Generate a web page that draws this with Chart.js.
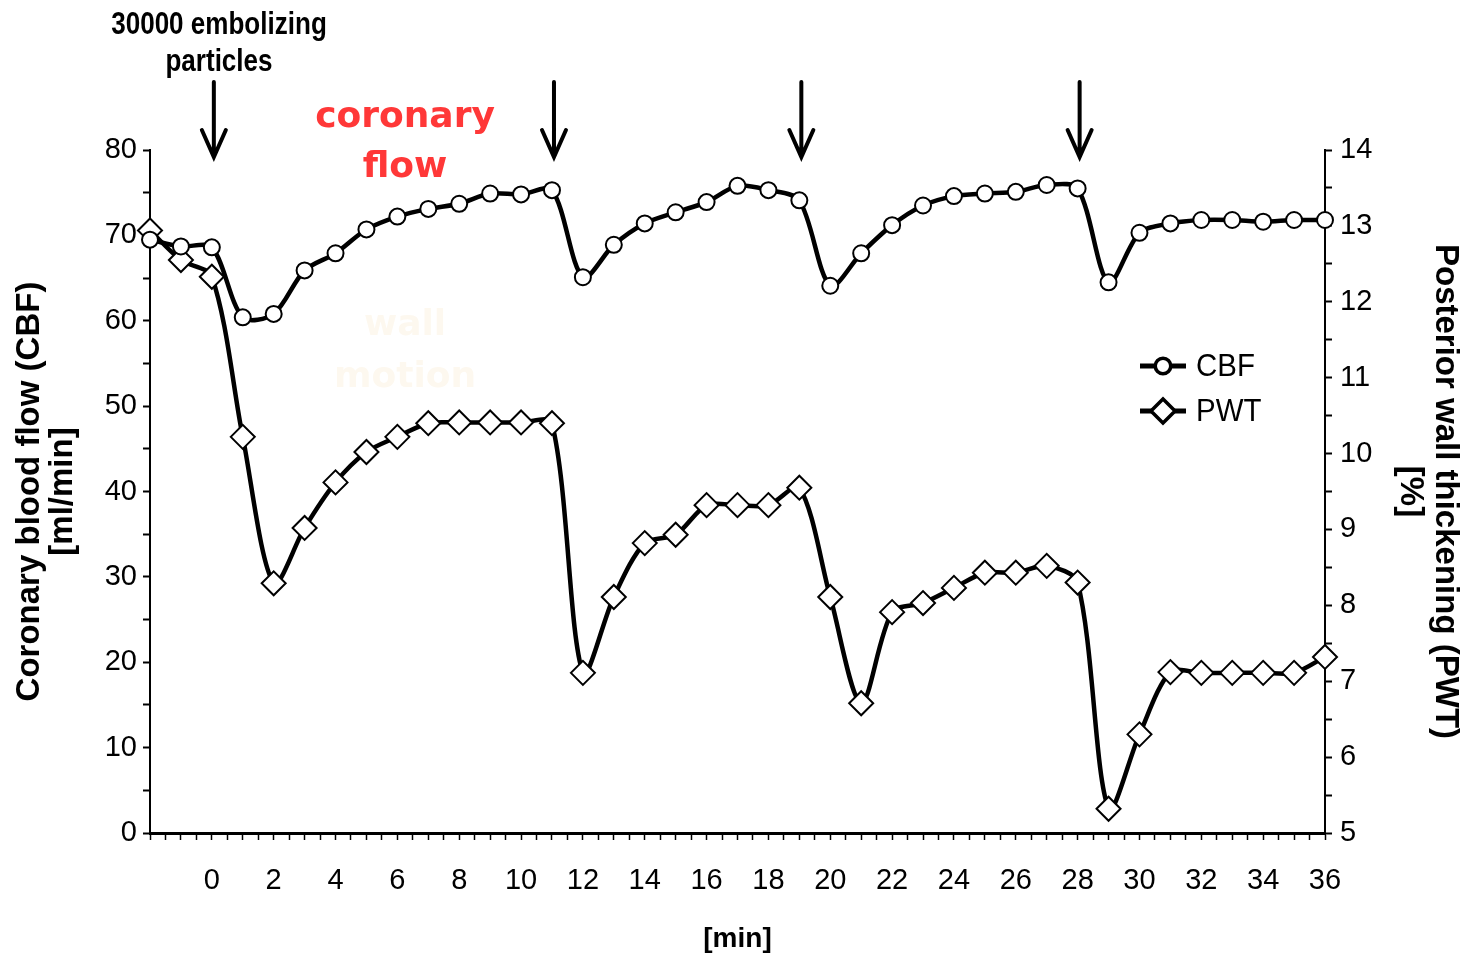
<!DOCTYPE html>
<html>
<head>
<meta charset="utf-8">
<script src="https://cdn.jsdelivr.net/npm/chart.js@4.4.1/dist/chart.umd.min.js"></script>
<style>
  html, body { margin: 0; padding: 0; background: #fff; }
  #wrap { width: 1472px; height: 958px; position: relative; }
</style>
</head>
<body>
<div id="wrap"><canvas id="chart" width="1472" height="958"></canvas></div>
<script>
// time points [min]
const minutes = [-2, -1, 0, 1, 2, 3, 4, 5, 6, 7, 8, 9, 10, 11, 12, 13, 14, 15, 16, 17, 18, 19,
  20, 21, 22, 23, 24, 25, 26, 27, 28, 29, 30, 31, 32, 33, 34, 35, 36];
// coronary blood flow [ml/min]
const cbf = [69.5, 68.7, 68.6, 60.4, 60.8, 65.9, 67.9, 70.7, 72.2, 73.1, 73.7, 74.9, 74.8, 75.3,
  65.1, 68.9, 71.4, 72.7, 73.9, 75.8, 75.3, 74.1, 64.1, 67.9, 71.2, 73.5, 74.6, 74.9, 75.1, 75.9,
  75.5, 64.5, 70.3, 71.4, 71.8, 71.8, 71.6, 71.8, 71.8];
// posterior wall thickening [%]
const pwt = [12.94, 12.55, 12.33, 10.22, 8.29, 9.02, 9.62, 10.02, 10.22, 10.40, 10.41, 10.41, 10.41,
  10.40, 7.11, 8.11, 8.82, 8.93, 9.32, 9.32, 9.32, 9.55, 8.11, 6.71, 7.91, 8.03, 8.23, 8.43, 8.43,
  8.52, 8.30, 5.32, 6.30, 7.12, 7.11, 7.11, 7.11, 7.11, 7.32];
// times of particle injections (arrows)
const injections = [0, 11, 19, 28];

const sans = '"Liberation Sans", Arial, sans-serif';

// annotations: arrows, texts, legend
const annotations = {
  id: 'annotations',
  afterDraw(chart) {
    const ctx = chart.ctx;
    const x = chart.scales.x;
    ctx.save();

    // arrows
    ctx.strokeStyle = '#000';
    ctx.lineWidth = 4;
    ctx.lineCap = 'round';
    injections.forEach(t => {
      const px = x.getPixelForValue(t) + 2;
      ctx.beginPath();
      ctx.moveTo(px, 82);
      ctx.lineTo(px, 156);
      ctx.moveTo(px - 12, 130);
      ctx.lineTo(px, 157);
      ctx.lineTo(px + 12, 130);
      ctx.stroke();
    });

    // injection label (condensed)
    ctx.fillStyle = '#000';
    ctx.textAlign = 'center';
    ctx.textBaseline = 'middle';
    ctx.font = 'bold 31px ' + sans;
    ctx.save();
    ctx.translate(219, 0);
    ctx.scale(0.84, 1);
    ctx.fillText('30000 embolizing', 0, 25);
    ctx.fillText('particles', 0, 62);
    ctx.restore();

    // red label
    ctx.fillStyle = '#ff3838';
    ctx.font = 'bold 36px "DejaVu Sans", sans-serif';
    ctx.fillText('coronary', 405, 118);
    ctx.fillText('flow', 405, 168);

    // faint label
    ctx.fillStyle = '#fdf8ef';
    ctx.fillText('wall', 405, 326);
    ctx.fillText('motion', 405, 378);

    // legend
    const items = [
      { label: 'CBF', ds: chart.data.datasets[0], y: 366 },
      { label: 'PWT', ds: chart.data.datasets[1], y: 411 }
    ];
    items.forEach(it => {
      ctx.strokeStyle = '#000';
      ctx.lineWidth = 5;
      ctx.lineCap = 'butt';
      ctx.beginPath();
      ctx.moveTo(1140, it.y);
      ctx.lineTo(1186, it.y);
      ctx.stroke();
      Chart.helpers.drawPoint(ctx, {
        pointStyle: it.ds.pointStyle,
        radius: it.ds.pointRadius - 1,
        borderWidth: 2
      }, 1163, it.y);
      ctx.fillStyle = '#fff';
      ctx.fill();
      ctx.lineWidth = 2;
      ctx.stroke();
      ctx.fillStyle = '#000';
      ctx.textAlign = 'left';
      ctx.font = '32px ' + sans;
      ctx.save();
      ctx.translate(1196, it.y + 1);
      ctx.scale(0.92, 1);
      ctx.fillText(it.label, 0, 0);
      ctx.restore();
    });
    ctx.restore();
  }
};

new Chart(document.getElementById('chart'), {
  type: 'line',
  data: {
    datasets: [
      {
        label: 'CBF',
        data: minutes.map((m, i) => ({ x: m, y: cbf[i] })),
        yAxisID: 'y',
        borderColor: '#000',
        borderWidth: 4.5,
        tension: 0.3,
        pointStyle: 'circle',
        pointRadius: 8,
        pointBorderWidth: 2,
        pointBackgroundColor: '#fff',
        pointBorderColor: '#000',
        clip: false
      },
      {
        label: 'PWT',
        data: minutes.map((m, i) => ({ x: m, y: pwt[i] })),
        yAxisID: 'y1',
        borderColor: '#000',
        borderWidth: 4.5,
        tension: 0.3,
        pointStyle: 'rectRot',
        pointRadius: 12,
        pointBorderWidth: 2,
        pointBackgroundColor: '#fff',
        pointBorderColor: '#000',
        clip: false
      }
    ]
  },
  options: {
    responsive: false,
    animation: false,
    layout: { padding: { top: 150, left: 0, right: 0, bottom: 0 } },
    plugins: {
      legend: { display: false },
      tooltip: { enabled: false }
    },
    scales: {
      x: {
        type: 'linear',
        min: -2,
        max: 36,
        afterFit(s) { s.height = 125; },
        border: { color: '#000', width: 3 },
        grid: { drawOnChartArea: false, color: '#000', tickLength: 7, tickWidth: 1.5 },
        ticks: {
          stepSize: 0.5,
          autoSkip: false,
          maxRotation: 0,
          padding: 24,
          color: '#000',
          font: { family: sans, size: 29 },
          callback: v => (v >= 0 && v % 2 === 0) ? v : ''
        },
        title: {
          display: true,
          text: '[min]',
          color: '#000',
          font: { family: sans, size: 28, weight: 'bold' },
          padding: { bottom: 2 }
        }
      },
      y: {
        position: 'left',
        min: 0,
        max: 80,
        afterFit(s) { s.width = 150; },
        border: { color: '#000', width: 2 },
        grid: { drawOnChartArea: false, color: '#000', tickLength: 7, tickWidth: 2 },
        ticks: {
          stepSize: 5,
          autoSkip: false,
          padding: 6,
          color: '#000',
          font: { family: sans, size: 29 },
          callback: v => v % 10 === 0 ? v : ''
        },
        title: {
          display: true,
          text: ['Coronary blood flow (CBF)', '[ml/min]'],
          color: '#000',
          font: { family: sans, size: 33, weight: 'bold', lineHeight: 1.0 },
          padding: { top: 13 }
        }
      },
      y1: {
        position: 'right',
        min: 5,
        max: 14,
        afterFit(s) { s.width = 147; },
        border: { color: '#000', width: 2 },
        grid: { drawOnChartArea: false, color: '#000', tickLength: 7, tickWidth: 2 },
        ticks: {
          stepSize: 0.5,
          autoSkip: false,
          padding: 8,
          color: '#000',
          font: { family: sans, size: 29 },
          callback: v => Number.isInteger(v) ? v : ''
        },
        title: {
          display: true,
          text: ['Posterior wall thickening (PWT)', '[%]'],
          color: '#000',
          font: { family: sans, size: 33, weight: 'bold', lineHeight: 1.05 },
          padding: { top: 10 }
        }
      }
    }
  },
  plugins: [annotations]
});
</script>
</body>
</html>
